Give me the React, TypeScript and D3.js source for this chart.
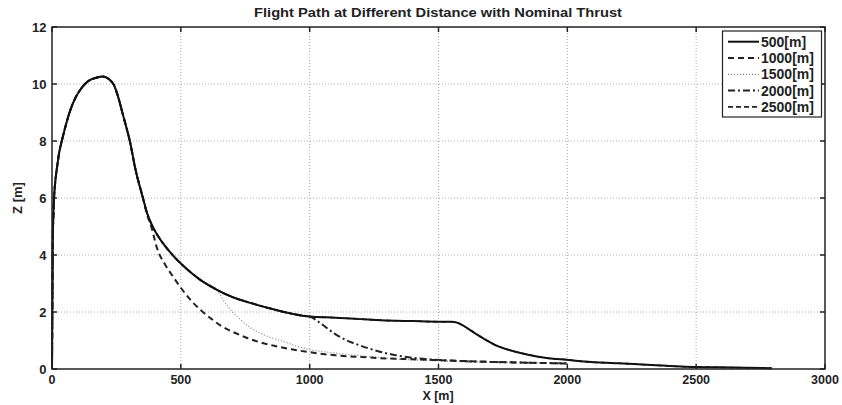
import React from "react";
import * as d3 from "d3";

type Pt = [number, number];

// shared climb out of the launch point
const ascent: Pt[] = [
  [0, 0], [1, 1.5], [2, 3], [3, 4.5], [5, 5.3], [8, 6], [13, 6.6], [20, 7.1],
  [28, 7.6], [38, 8], [52, 8.5], [68, 9], [90, 9.5], [110, 9.8], [130, 10.02],
  [150, 10.15], [175, 10.23], [195, 10.26], [210, 10.23], [225, 10.14],
  [240, 9.97], [255, 9.6], [273, 9], [288, 8.5], [302, 8], [324, 7], [353, 6],
];
// upper branch down to where the 1500 curve leaves
const upper: Pt[] = [
  [368, 5.5], [385, 5.1], [409, 4.7], [440, 4.3], [470, 3.98], [500, 3.7],
  [540, 3.38], [577, 3.12], [640, 2.78],
];
// upper branch on to where the 2000 curve leaves
const cruise: Pt[] = [
  [707, 2.5], [770, 2.32], [836, 2.15], [900, 2.0], [966, 1.88], [1000, 1.84],
];
const plateau: Pt[] = [
  [1100, 1.8], [1200, 1.75], [1277, 1.71], [1400, 1.68], [1500, 1.66],
  [1549, 1.66], [1575, 1.62], [1600, 1.5], [1639, 1.27], [1692, 0.98],
  [1730, 0.8], [1770, 0.68], [1848, 0.5], [1926, 0.38], [2004, 0.32],
  [2066, 0.26], [2198, 0.2], [2327, 0.14], [2457, 0.08], [2587, 0.06],
  [2700, 0.04], [2793, 0.03],
];
const tail1000: Pt[] = [
  [368, 5.45], [385, 5.0], [409, 4.2], [440, 3.65], [473, 3.2], [500, 2.85],
  [540, 2.4], [577, 2.07], [620, 1.75], [655, 1.52], [707, 1.28], [760, 1.08],
  [810, 0.93], [870, 0.8], [930, 0.69], [1000, 0.59], [1100, 0.48],
  [1200, 0.42], [1300, 0.37], [1400, 0.34], [1500, 0.31], [1600, 0.28],
  [1700, 0.25], [1800, 0.23], [1900, 0.21], [2000, 0.19],
];
const tail1500: Pt[] = [
  [670, 2.35], [700, 2.0], [733, 1.72], [770, 1.45], [810, 1.25], [850, 1.1],
  [900, 0.96], [950, 0.8], [1000, 0.68], [1080, 0.58], [1160, 0.5],
  [1250, 0.42], [1355, 0.34], [1450, 0.3], [1550, 0.27], [1700, 0.24],
  [1850, 0.22], [2000, 0.2],
];
const tail2000: Pt[] = [
  [1040, 1.62], [1095, 1.25], [1140, 1.02], [1173, 0.9], [1230, 0.72],
  [1289, 0.57], [1350, 0.46], [1421, 0.37], [1500, 0.32], [1575, 0.28],
  [1700, 0.25], [1850, 0.22], [2000, 0.2],
];

const seriesNames = ["500[m]", "1000[m]", "1500[m]", "2000[m]", "2500[m]"];
const xTicks = [0, 500, 1000, 1500, 2000, 2500, 3000];
const yTicks = [0, 2, 4, 6, 8, 10, 12];

const series = [
  { name: seriesNames[0], pts: [...ascent, ...upper, ...cruise, ...plateau], dash: "", w: 2, c: "#111" },
  { name: seriesNames[1], pts: [...ascent, ...tail1000], dash: "6 4", w: 2, c: "#222" },
  { name: seriesNames[2], pts: [...ascent, ...upper, ...tail1500], dash: "1 2", w: 1.2, c: "#888" },
  { name: seriesNames[3], pts: [...ascent, ...upper, ...cruise, ...tail2000], dash: "7 3 2 3", w: 2, c: "#222" },
  { name: seriesNames[4], pts: [...ascent, ...upper, ...cruise, ...plateau], dash: "5 3", w: 1.6, c: "#222" },
];

const W = 842, H = 405;
const L = 52, R = 825, T = 27, B = 369;
const FONT = "'Liberation Sans', Arial, sans-serif";

export default function App() {
  const x = d3.scaleLinear().domain([0, 3000]).range([L, R]);
  const y = d3.scaleLinear().domain([0, 12]).range([B, T]);
  const line = d3.line<Pt>().x((d) => x(d[0])).y((d) => y(d[1])).curve(d3.curveMonotoneX);

  return (
    <svg width={W} height={H} style={{ position: "absolute", left: 0, top: 0, background: "#fff" }} fontFamily={FONT}>
      <text x={438} y={17} textAnchor="middle" fontSize={13} fontWeight="bold" fill="#222"
        textLength={368} lengthAdjust="spacingAndGlyphs">
        Flight Path at Different Distance with Nominal Thrust
      </text>
      {/* grid */}
      {xTicks.slice(1, -1).map((t) => (
        <line key={"gx" + t} x1={x(t)} x2={x(t)} y1={T} y2={B} stroke="#aaa" strokeDasharray="1 2" />
      ))}
      {yTicks.slice(1, -1).map((t) => (
        <line key={"gy" + t} x1={L} x2={R} y1={y(t)} y2={y(t)} stroke="#aaa" strokeDasharray="1 2" />
      ))}
      {/* curves, solid on top */}
      {[...series].reverse().map((s) => (
        <path key={s.name} d={line(s.pts) || ""} fill="none" stroke={s.c} strokeWidth={s.w}
          strokeDasharray={s.dash || undefined} strokeLinejoin="round" />
      ))}
      {/* frame and ticks */}
      <rect x={L} y={T} width={R - L} height={B - T} fill="none" stroke="#222" strokeWidth={1.5} />
      {xTicks.map((t) => (
        <g key={"tx" + t}>
          <line x1={x(t)} x2={x(t)} y1={B} y2={B - 5} stroke="#222" strokeWidth={1.5} />
          <line x1={x(t)} x2={x(t)} y1={T} y2={T + 5} stroke="#222" strokeWidth={1.5} />
          <text x={x(t)} y={384} textAnchor="middle" fontSize={12.5} fontWeight="bold" fill="#222">{t}</text>
        </g>
      ))}
      {yTicks.map((t) => (
        <g key={"ty" + t}>
          <line x1={L} x2={L + 5} y1={y(t)} y2={y(t)} stroke="#222" strokeWidth={1.5} />
          <line x1={R} x2={R - 5} y1={y(t)} y2={y(t)} stroke="#222" strokeWidth={1.5} />
          <text x={46.5} y={y(t)} dy="0.35em" textAnchor="end" fontSize={13} fontWeight="bold" fill="#222">{t}</text>
        </g>
      ))}
      <text x={438} y={400} textAnchor="middle" fontSize={12.5} fontWeight="bold" fill="#222">X [m]</text>
      <text transform="translate(22,198) rotate(-90)" textAnchor="middle" fontSize={13} fontWeight="bold" fill="#222">Z [m]</text>
      {/* legend */}
      <rect x={722.5} y={31} width={99} height={86} fill="#fff" stroke="#222" strokeWidth={1.2} />
      {series.map((s, i) => {
        const ly = 41.7 + i * 16.3;
        return (
          <g key={"lg" + s.name}>
            <line x1={728} x2={759} y1={ly} y2={ly} stroke={s.c} strokeWidth={s.w} strokeDasharray={s.dash || undefined} />
            <text x={761} y={ly} dy="0.36em" fontSize={14} fontWeight="bold" fill="#222">{s.name}</text>
          </g>
        );
      })}
    </svg>
  );
}
